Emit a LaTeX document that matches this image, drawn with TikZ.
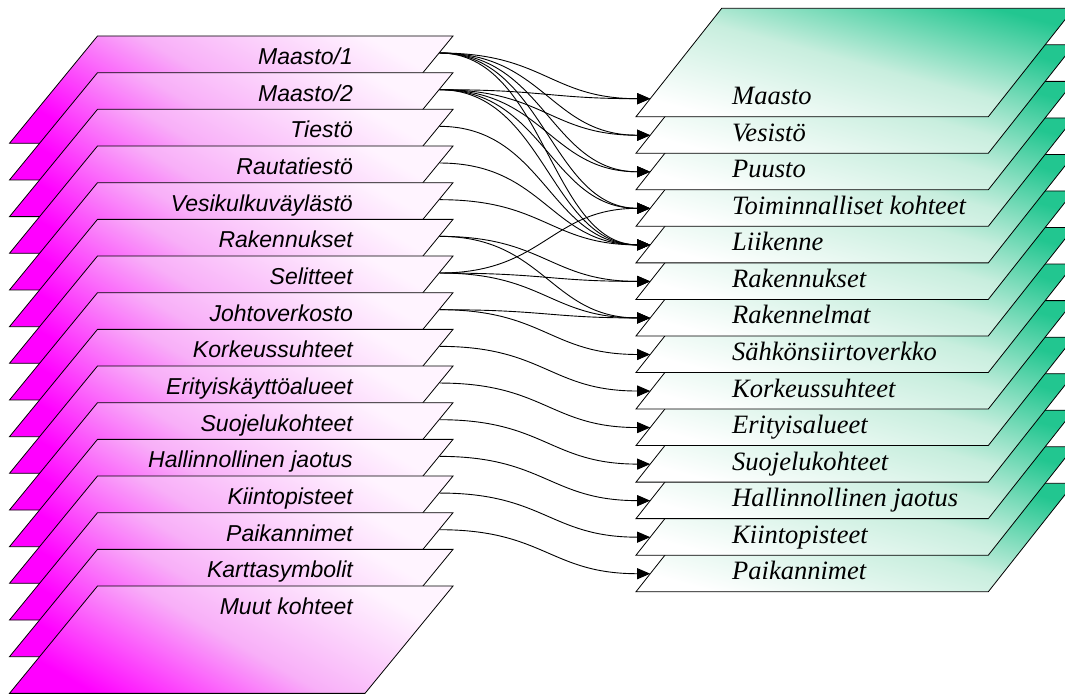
\documentclass[tikz,border=0pt]{standalone}
\usepackage{fontspec}
\setmainfont{Liberation Serif}
\newfontfamily\lsansfam{Liberation Sans}
\usetikzlibrary{arrows.meta}
\definecolor{mag}{RGB}{255,0,255}
\definecolor{magmid}{RGB}{248,175,248}
\definecolor{magtop}{RGB}{255,244,255}
\definecolor{grn}{RGB}{34,198,144}
\definecolor{grnmid}{RGB}{200,238,222}
\tikzset{
  leftlayer/.style={draw=black, line width=0.8pt, top color=magtop, bottom color=mag, middle color=magmid, shading angle=-30},
  rightlayer/.style={draw=black, line width=0.8pt, top color=grn, bottom color=white, middle color=grnmid, shading angle=-15},
  sanslabel/.style={inner sep=0pt, font=\lsansfam\itshape\fontsize{23}{26}\selectfont},
  seriflabel/.style={inner sep=0pt, font=\itshape\fontsize{26.5}{30}\selectfont},
  conn/.style={draw=black, line width=0.9pt, -{Triangle[length=13pt,width=11pt]}}
}
\newcommand\llayer[2]{%
  \pgfmathsetmacro\T{36+36.67*#1}%
  \path[leftlayer] (97.5,\T) -- ++(355.5,0) -- ++(-88,107.3) -- ++(-355.5,0) -- cycle;
  \node[sanslabel, anchor=base east] (ll#1) at (353,\T+28.5) {#2};
  \coordinate (lo#1) at (439.5,\T+17);
}
\newcommand\rlayer[2]{%
  \pgfmathsetmacro\B{116.7+36.54*#1}%
  \path[rightlayer] (636,\B) -- ++(352.3,0) -- ++(85.7,-108.4) -- ++(-352.3,0) -- cycle;
  \node[seriflabel, anchor=base west] (rl#1) at (732,\B-12) {#2};
  \coordinate (ri#1) at (650.2,\B-18);
}
\newcommand\linkto[2]{\draw[conn] (lo#1) .. controls +(105,0) and +(-100,0) .. (ri#2);}
\begin{document}
\begin{tikzpicture}[x=1pt,y=-1pt]
\useasboundingbox (0,0) rectangle (1065,695);
\clip (0,0) rectangle (1065,695);
\fill[white] (0,0) rectangle (1065,695);
% left stack (back to front)
\llayer{0}{Maasto/1}
\llayer{1}{Maasto/2}
\llayer{2}{Tiestö}
\llayer{3}{Rautatiestö}
\llayer{4}{Vesikulkuväylästö}
\llayer{5}{Rakennukset}
\llayer{6}{Selitteet}
\llayer{7}{Johtoverkosto}
\llayer{8}{Korkeussuhteet}
\llayer{9}{Erityiskäyttöalueet}
\llayer{10}{Suojelukohteet}
\llayer{11}{Hallinnollinen jaotus}
\llayer{12}{Kiintopisteet}
\llayer{13}{Paikannimet}
\llayer{14}{Karttasymbolit}
\llayer{15}{Muut kohteet}
% right stack (back to front)
\rlayer{13}{Paikannimet}
\rlayer{12}{Kiintopisteet}
\rlayer{11}{Hallinnollinen jaotus}
\rlayer{10}{Suojelukohteet}
\rlayer{9}{Erityisalueet}
\rlayer{8}{Korkeussuhteet}
\rlayer{7}{Sähkönsiirtoverkko}
\rlayer{6}{Rakennelmat}
\rlayer{5}{Rakennukset}
\rlayer{4}{Liikenne}
\rlayer{3}{Toiminnalliset kohteet}
\rlayer{2}{Puusto}
\rlayer{1}{Vesistö}
\rlayer{0}{Maasto}
% connectors
\linkto{0}{0}\linkto{0}{1}\linkto{0}{2}\linkto{0}{3}\linkto{0}{4}
\linkto{1}{0}\linkto{1}{1}\linkto{1}{2}\linkto{1}{3}\linkto{1}{4}
\linkto{2}{4}\linkto{3}{4}\linkto{4}{4}
\linkto{5}{5}\linkto{5}{6}
\linkto{6}{3}\linkto{6}{5}\linkto{6}{6}
\linkto{7}{6}\linkto{7}{7}
\linkto{8}{8}\linkto{9}{9}\linkto{10}{10}\linkto{11}{11}\linkto{12}{12}\linkto{13}{13}
\end{tikzpicture}
\end{document}
